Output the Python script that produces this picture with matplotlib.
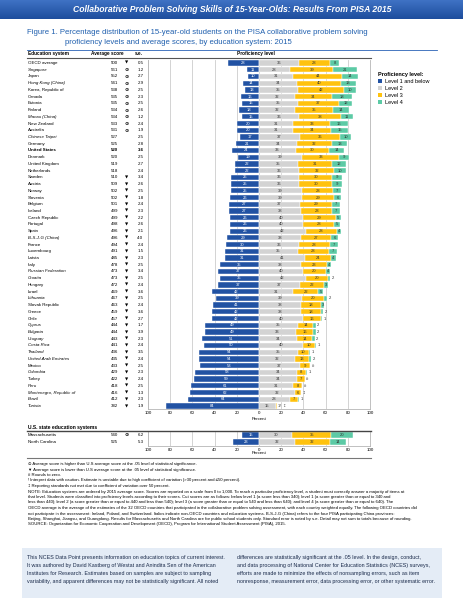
import matplotlib.pyplot as plt
import numpy as np
import textwrap
from matplotlib.lines import Line2D
from matplotlib.patches import Patch, Rectangle

W, H = 464, 600

systems = ["OECD average", "Singapore", "Japan", "Hong Kong (China)", "Korea, Republic of",
           "Canada", "Estonia", "Finland", "Macau (China)", "New Zealand", "Australia",
           "Chinese Taipei", "Germany", "United States", "Denmark", "United Kingdom",
           "Netherlands", "Sweden", "Austria", "Norway", "Slovenia", "Belgium", "Iceland",
           "Czech Republic", "Portugal", "Spain", "B-S-J-G (China)", "France", "Luxembourg",
           "Latvia", "Italy", "Russian Federation", "Croatia", "Hungary", "Israel",
           "Lithuania", "Slovak Republic", "Greece", "Chile", "Cyprus", "Bulgaria",
           "Uruguay", "Costa Rica", "Thailand", "United Arab Emirates", "Mexico",
           "Colombia", "Turkey", "Peru", "Montenegro, Republic of", "Brazil", "Tunisia"]
scores = [500, 561, 552, 541, 538, 535, 535, 534, 534, 533, 531, 527, 525, 520, 520, 519,
          518, 510, 509, 502, 502, 501, 499, 499, 498, 496, 496, 494, 491, 485, 478, 473,
          473, 472, 469, 467, 463, 459, 457, 444, 444, 443, 441, 436, 435, 433, 429, 422,
          418, 416, 412, 382]
sig = ["low"] + ["high"] * 10 + [""] * 6 + ["low"] * 35
se = [0.5, 1.2, 2.7, 2.9, 2.5, 2.3, 2.5, 2.6, 1.2, 2.4, 1.9, 2.5, 2.8, 3.6, 2.5, 2.7, 2.4,
      3.4, 2.6, 2.5, 1.8, 2.4, 2.3, 2.2, 2.6, 2.1, 4.0, 2.4, 1.5, 2.3, 2.5, 3.4, 2.5, 2.4,
      3.6, 2.5, 2.4, 3.6, 2.7, 1.7, 3.9, 2.3, 2.4, 3.5, 2.4, 2.5, 2.3, 2.4, 2.5, 1.3, 2.3, 1.9]
lev1 = [28, 11, 10, 14, 13, 16, 15, 18, 15, 20, 20, 17, 21, 24, 19, 22, 22, 25, 25, 25, 26,
        27, 27, 26, 26, 26, 29, 30, 31, 31, 35, 37, 35, 37, 42, 39, 41, 42, 42, 49, 49, 51,
        50, 54, 54, 53, 58, 59, 61, 62, 64, 84]
lev2 = [36, 28, 31, 34, 35, 32, 35, 32, 36, 31, 31, 37, 34, 33, 39, 35, 36, 36, 36, 39, 39,
        37, 38, 40, 40, 42, 38, 36, 35, 41, 38, 40, 42, 37, 31, 39, 38, 38, 40, 35, 33, 34,
        40, 35, 32, 37, 34, 34, 31, 32, 28, 15]
lev3 = [28, 39, 44, 40, 42, 34, 37, 35, 38, 33, 34, 36, 32, 30, 33, 31, 32, 30, 30, 28, 29,
        29, 28, 29, 28, 28, 27, 28, 28, 24, 23, 20, 20, 22, 22, 20, 18, 18, 16, 14, 16, 14,
        10, 10, 13, 9, 8, 7, 8, 6, 7, 1]
lev4 = [8, 21, 14, 13, 10, 18, 12, 14, 11, 16, 15, 10, 13, 14, 9, 12, 10, 9, 9, 7, 6, 7, 7,
        5, 5, 4, 6, 7, 7, 4, 4, 4, 2, 3, 5, 2, 3, 2, 1, 2, 2, 2, 1, 1, 2, 0, 1, 0, 0, 0, 1, 0]
# special labels: rounds to zero, reporting standards not met, interpret with caution
lev3_note = {"Tunisia": "1!"}
lev4_note = {"Mexico": "#", "Turkey": "#", "Peru": "#", "Montenegro, Republic of": "\u2021",
             "Tunisia": "\u2021"}
non_oecd = {"Singapore", "Hong Kong (China)", "Macau (China)", "Chinese Taipei",
            "B-S-J-G (China)", "Russian Federation", "Croatia", "Lithuania", "Cyprus",
            "Bulgaria", "Uruguay", "Costa Rica", "Thailand", "United Arab Emirates",
            "Colombia", "Peru", "Montenegro, Republic of", "Brazil", "Tunisia"}

states = ["Massachusetts", "North Carolina"]
st_scores = [540, 525]
st_sig = ["high", ""]
st_se = [6.2, 5.3]
st_lev1 = [15, 23]
st_lev2 = [30, 32]
st_lev3 = [35, 32]
st_lev4 = [20, 14]

levels = ["Level 1 and below", "Level 2", "Level 3", "Level 4"]
colors = ["#2152a3", "#d3d3d3", "#ffc20e", "#5ccaa5"]
ticks = list(range(-100, 101, 20))

plt.rcParams["font.family"] = ["Liberation Sans", "DejaVu Sans"]
fig = plt.figure(figsize=(W / 100, H / 100), dpi=100)


def fx(x):
    return x / W


def fy(y):
    return 1 - y / H


def hline(y, x0, x1, color, lw):
    fig.add_artist(Line2D([fx(x0), fx(x1)], [fy(y), fy(y)], color=color, lw=lw,
                          transform=fig.transFigure))


# banner
bax = fig.add_axes([0, fy(19), 1, 19 / H])
grad = np.linspace(0, 1, 50).reshape(-1, 1)
bax.imshow(grad, aspect="auto", cmap=plt.matplotlib.colors.LinearSegmentedColormap.from_list(
    "b", ["#3f72c4", "#1d4d9d"]), extent=[0, 1, 0, 1])
bax.axis("off")
fig.text(0.5, fy(10), "Collaborative Problem Solving Skills of 15-Year-Olds: Results From PISA 2015",
         color="white", fontsize=6.2, fontweight="bold", fontstyle="italic",
         family=["Liberation Sans Narrow", "Liberation Sans"], ha="center", va="center")

fig.text(fx(27), fy(32), "Figure 1. Percentage distribution of 15-year-old students on the PISA collaborative problem solving",
         color="#1f5fae", fontsize=5.55, va="center")
fig.text(fx(65), fy(42), "proficiency levels and average scores, by education system: 2015",
         color="#1f5fae", fontsize=5.55, va="center")
hline(50, 27, 437, "#2a62b5", 0.6)

fig.text(fx(28), fy(53.5), "Education system", fontsize=3.4, fontweight="bold", va="center")
fig.text(fx(91), fy(53.5), "Average score", fontsize=3.4, fontweight="bold", va="center")
fig.text(fx(135), fy(53.5), "s.e.", fontsize=3.4, fontweight="bold", va="center")
fig.text(fx(237), fy(53.5), "Proficiency level", fontsize=3.4, fontweight="bold", va="center")
hline(57.5, 27, 371, "#555555", 0.8)


def draw_rows(ax, names, sc, sg, s_e, l1, l2, l3, l4, y_top, step, pctpx):
    n = len(names)
    y = np.arange(n)
    ax.set_xlim(-100, 100)
    ax.set_ylim(n - 0.5, -0.5)
    for t in ticks:
        ax.axvline(t, color="#cccccc", lw=0.6, zorder=0)
    l1 = np.array(l1)
    l2 = np.array(l2)
    l3 = np.array(l3)
    l4 = np.array(l4)
    h = 0.78
    ax.barh(y, l1, left=-l1, height=h, color=colors[0], edgecolor="white", lw=0.3)
    ax.barh(y, l2, left=0, height=h, color=colors[1], edgecolor="white", lw=0.3)
    ax.barh(y, l3, left=l2, height=h, color=colors[2], edgecolor="white", lw=0.3)
    ax.barh(y, l4, left=l2 + l3, height=h, color=colors[3], edgecolor="white", lw=0.3)
    fs = 3.0
    for i in range(n):
        ax.text(-l1[i] / 2, i, str(l1[i]), color="white", fontsize=fs, ha="center", va="center")
        ax.text(l2[i] / 2, i, str(l2[i]), color="#333333", fontsize=fs, ha="center", va="center")
        outside = []
        t3 = lev3_note.get(names[i], str(l3[i]))
        if l3[i] >= 3:
            ax.text(l2[i] + l3[i] / 2, i, t3, color="#333333", fontsize=fs, ha="center", va="center")
        else:
            outside.append(t3)
        t4 = lev4_note.get(names[i], str(l4[i]))
        if l4[i] >= 3:
            ax.text(l2[i] + l3[i] + l4[i] / 2, i, t4, color="#333333", fontsize=fs,
                    ha="center", va="center")
        else:
            outside.append(t4)
        if outside:
            ax.text(l2[i] + l3[i] + l4[i] + 1.5, i, "  ".join(outside), color="#333333",
                    fontsize=fs, ha="left", va="center")
        # left columns
        yy = y_top + i * step
        bold = "bold" if names[i] == "United States" else "normal"
        style = "italic" if names[i] in non_oecd else "normal"
        fig.text(fx(28), fy(yy), names[i], fontsize=3.2, fontweight=bold, fontstyle=style,
                 va="center")
        fig.text(fx(118), fy(yy), str(sc[i]), fontsize=3.2, fontweight=bold, ha="right",
                 va="center")
        if sg[i] == "high":
            fig.text(fx(127), fy(yy), "\u2299", fontsize=3.6, fontweight="bold", ha="center",
                     va="center", family="DejaVu Sans")
        elif sg[i] == "low":
            fig.text(fx(127), fy(yy), "\u25bc", fontsize=3.0, ha="center", va="center",
                     family="DejaVu Sans")
        fig.text(fx(143.5), fy(yy), f"{s_e[i]:.1f}", fontsize=3.2, fontweight=bold, ha="right",
                 va="center")
    ax.set_xticks(ticks)
    ax.set_xticklabels([str(abs(t)) for t in ticks])
    ax.tick_params(axis="x", length=0, labelsize=3.2, pad=1.5)
    ax.set_yticks([])
    for s in ["left", "right", "bottom"]:
        ax.spines[s].set_color("#b5b5b5")
        ax.spines[s].set_linewidth(0.6)
    ax.spines["top"].set_visible(False)
    fig.text(fx(259), fy(pctpx), "Percent", fontsize=3.2, ha="center", va="center")


step = (406 - 63) / 51
ax = fig.add_axes([fx(148), fy(63 + 51.5 * step), 222 / W, 52 * step / H])
draw_rows(ax, systems, scores, sig, se, lev1, lev2, lev3, lev4, 63, step, 419)

fig.text(fx(28), fy(427), "U.S. state education systems", fontsize=3.6, fontweight="bold",
         va="center")
hline(430.5, 27, 371, "#444444", 1.0)
ax2 = fig.add_axes([fx(148), fy(445.5), 222 / W, 14 / H])
draw_rows(ax2, states, st_scores, st_sig, st_se, st_lev1, st_lev2, st_lev3, st_lev4, 435, 7,
          453)
hline(457.5, 27, 371, "#777777", 0.8)

handles = [Patch(facecolor=c, edgecolor="none") for c in colors]
leg = fig.legend(handles, levels, loc="upper left", bbox_to_anchor=(fx(373), fy(67)),
                 frameon=False, fontsize=4, title="Proficiency level:",
                 title_fontproperties={"weight": "bold", "size": 4}, alignment="left",
                 handlelength=0.7, handleheight=0.7, handletextpad=0.5, labelspacing=0.35)

marks = [
    "\u2299 Average score is higher than U.S average score at the .05 level of statistical significance.",
    "\u25bc Average score is lower than U.S average score at the .05 level of statistical significance.",
    "# Rounds to zero.",
    "! Interpret data with caution. Estimate is unstable due to high coefficient of variation (>30 percent and \u226450 percent).",
    "\u2021 Reporting standards not met due to coefficient of variation over 50 percent.",
]
note = ("NOTE: Education systems are ordered by 2015 average score. Scores are reported on a scale "
        "from 0 to 1,000. To reach a particular proficiency level, a student must correctly answer a "
        "majority of items at that level. Students were classified into proficiency levels according "
        "to their scores. Cut scores are as follows: below level 1 (a score less than 340); level 1 "
        "(a score greater than or equal to 340 and less than 440); level 2 (a score greater than or "
        "equal to 440 and less than 540); level 3 (a score greater than or equal to 540 and less than "
        "640); and level 4 (a score greater than or equal to 640). The OECD average is the average of "
        "the estimates of the 32 OECD countries that participated in the collaborative problem solving "
        "assessment, with each country weighted equally. The following OECD countries did not "
        "participate in the assessment: Ireland, Poland, and Switzerland. Italics indicate non-OECD "
        "countries and education systems. B-S-J-G (China) refers to the four PISA participating China "
        "provinces: Beijing, Shanghai, Jiangsu, and Guangdong. Results for Massachusetts and North "
        "Carolina are for public school students only. Standard error is noted by s.e. Detail may not "
        "sum to totals because of rounding.")
source = ("SOURCE: Organization for Economic Cooperation and Development (OECD), Program for "
          "International Student Assessment (PISA), 2015.")
notes = marks + textwrap.wrap(note, 206) + [source]
for k, line in enumerate(notes):
    fig.text(fx(28), fy(464 + k * 5.5), line, fontsize=3.1, va="center",
             family=["Liberation Sans", "DejaVu Sans"])

fig.add_artist(Rectangle((fx(22), fy(598)), 420 / W, 50 / H, transform=fig.transFigure,
                         facecolor="#e4ecf6", edgecolor="none", zorder=0))
left_col = ["This NCES Data Point presents information on education topics of current interest.",
            "It was authored by David Kastberg of Westat and Anindita Sen of the American",
            "Institutes for Research. Estimates based on samples are subject to sampling",
            "variability, and apparent differences may not be statistically significant. All noted"]
right_col = ["differences are statistically significant at the .05 level. In the design, conduct,",
             "and data processing of National Center for Education Statistics (NCES) surveys,",
             "efforts are made to minimize the effects of nonsampling errors, such as item",
             "nonresponse, measurement error, data processing error, or other systematic error."]
for k in range(4):
    fig.text(fx(27), fy(557 + k * 8), left_col[k], fontsize=3.85, color="#1a2a4a", va="center")
    fig.text(fx(237), fy(557 + k * 8), right_col[k], fontsize=3.85, color="#1a2a4a", va="center")

fig.savefig("out.png", dpi=100)
plt.close()
